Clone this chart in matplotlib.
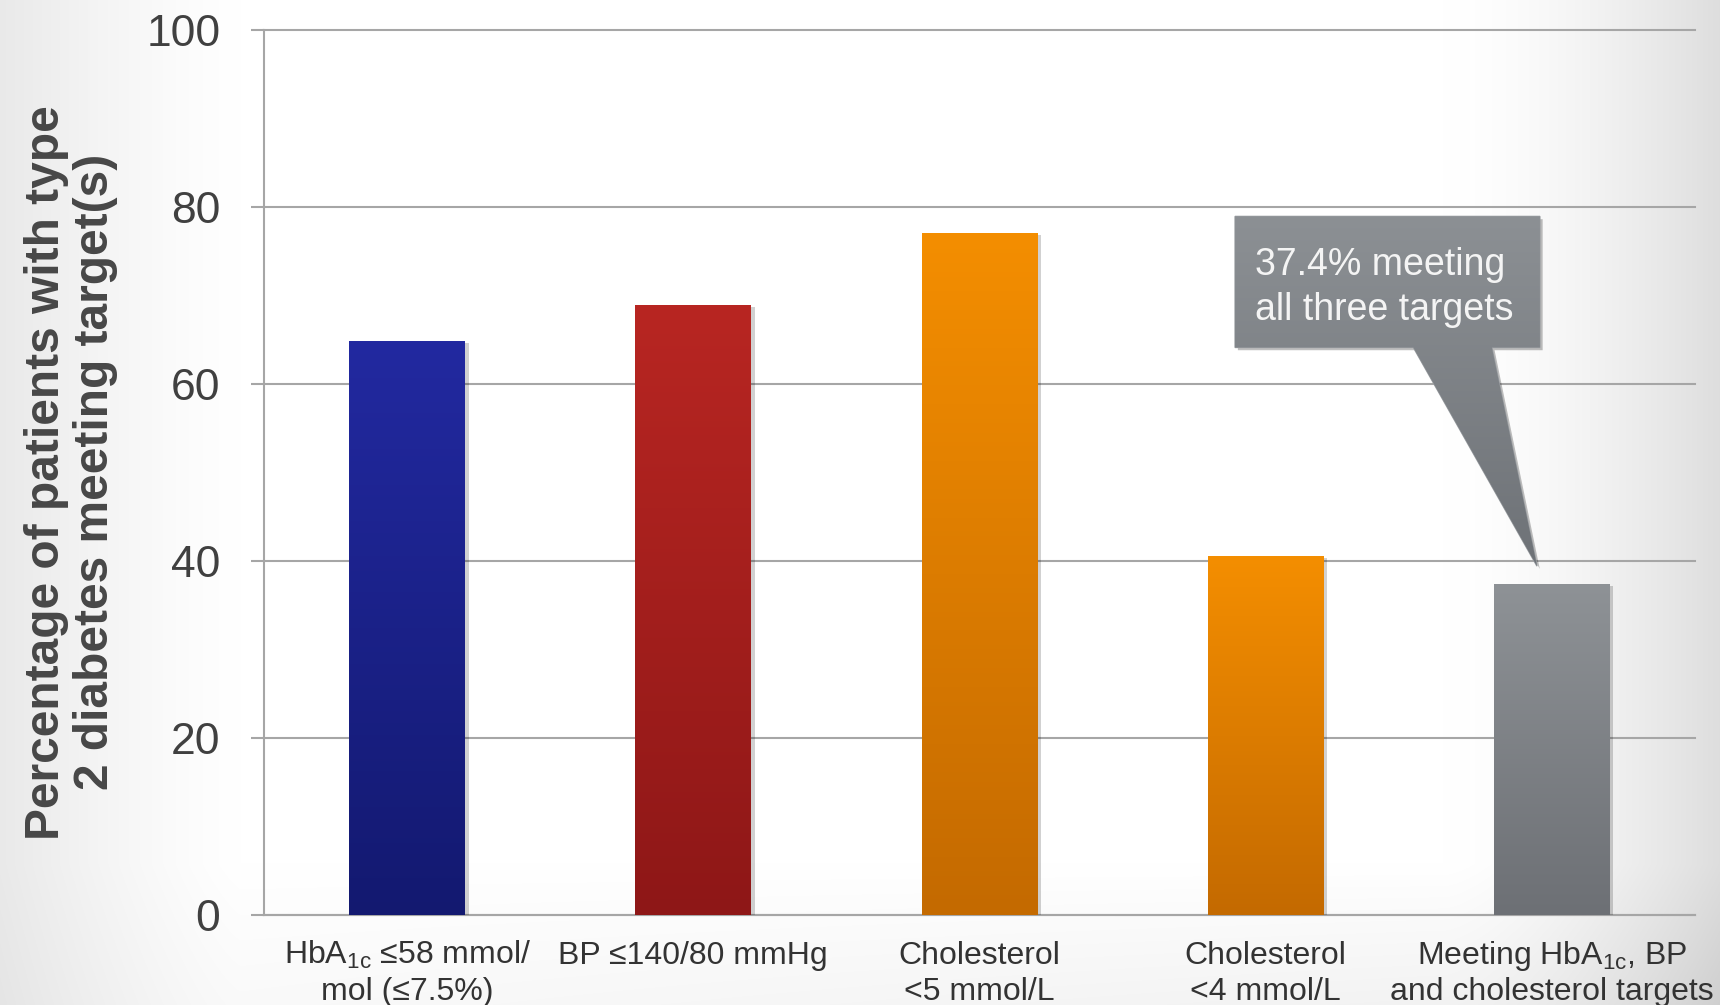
import numpy as np
import matplotlib
matplotlib.use("Agg")
import matplotlib.pyplot as plt
import matplotlib.patheffects as pe
from matplotlib.patches import Polygon
from matplotlib.colors import LinearSegmentedColormap
from matplotlib.transforms import blended_transform_factory, offset_copy

plt.rcParams["font.family"] = ["Liberation Sans", "DejaVu Sans"]
plt.rcParams["mathtext.fontset"] = "custom"
plt.rcParams["mathtext.rm"] = "Liberation Sans"
plt.rcParams["mathtext.it"] = "Liberation Sans:italic"
plt.rcParams["mathtext.bf"] = "Liberation Sans:bold"

# ---- data ----
label_line1 = [r"HbA$_{\mathregular{1c}}$ ≤58 mmol/", "BP ≤140/80 mmHg", "Cholesterol",
               "Cholesterol", r"Meeting HbA$_{\mathregular{1c}}$, BP"]
label_line2 = ["mol (≤7.5%)", "", "<5 mmol/L", "<4 mmol/L", "and cholesterol targets"]
values = [64.8, 68.9, 77.0, 40.5, 37.4]
top_colors = ["#2229A0", "#B82622", "#F48E00", "#F48E00", "#8E9296"]
bottom_colors = ["#131970", "#8E1717", "#C46A00", "#C46A00", "#6D7075"]
yticks = [0, 20, 40, 60, 80, 100]
ylabel = "Percentage of patients with type\n2 diabetes meeting target(s)"
callout_text = "37.4% meeting\nall three targets"

W, H = 1720, 1005
fig = plt.figure(figsize=(W / 100, H / 100), dpi=100)

# soft grey backdrop, lighter in the middle
bg = fig.add_axes([0, 0, 1, 1], zorder=-10)
u = np.linspace(0, 1, W)[None, :]
v = np.linspace(0, 1, H)[:, None]
shade = (0.085 * np.clip((0.14 - u) / 0.14, 0, 1) ** 1.3
         + 0.13 * np.clip((u - 0.84) / 0.16, 0, 1) ** 1.6
         + 0.04 * np.clip((v - 0.86) / 0.14, 0, 1) * (0.4 + u))
bright = 1 - shade
bg.imshow(np.dstack([bright, bright, bright]), extent=[0, 1, 0, 1], aspect="auto")
bg.set_axis_off()

ax = fig.add_axes([264 / W, 1 - 915 / H, (1695 - 264) / W, (915 - 29.6) / H])
ax.patch.set_alpha(0)
x = np.arange(len(values))
grid_c = "#A6A6A6"

bars = ax.bar(x, values, width=0.405, color=top_colors, zorder=3)
grad = np.linspace(0, 1, 256).reshape(-1, 1)
for rect, c0, c1 in zip(bars, bottom_colors, top_colors):
    rect.set_path_effects([pe.SimplePatchShadow(offset=(2.5, -1.5), shadow_rgbFace="#000000", alpha=0.18),
                           pe.Normal()])
    cmap = LinearSegmentedColormap.from_list("g", [c0, c1])
    x0, w, h = rect.get_x(), rect.get_width(), rect.get_height()
    im = ax.imshow(grad, extent=[x0, x0 + w, 0, h], origin="lower", cmap=cmap,
                   aspect="auto", zorder=4)
    im.set_clip_path(rect)

ax.set_xlim(-0.5, len(values) - 0.5)
ax.set_ylim(0, 100)
ax.set_yticks(yticks)
ax.set_yticklabels([str(t) for t in yticks])
ax.set_xticks([])
ax.yaxis.grid(True, color=grid_c, linewidth=1.5)
for gl in ax.get_ygridlines():
    gl.set_clip_on(False)
ax.set_axisbelow(True)
for s in ["top", "right"]:
    ax.spines[s].set_visible(False)
for s in ["left", "bottom"]:
    ax.spines[s].set_color(grid_c)
    ax.spines[s].set_linewidth(1.5)
ax.tick_params(axis="y", length=9.4, width=1.5, color=grid_c, pad=22,
               labelsize=32, labelcolor="#404040")

# category labels, two lines each
tr = blended_transform_factory(ax.transData, ax.transAxes)
for i, (l1, l2) in enumerate(zip(label_line1, label_line2)):
    ax.text(i, 0, l1, transform=offset_copy(tr, fig=fig, y=-35, units="points"),
            ha="center", va="baseline", fontsize=23, color="#333333")
    if l2:
        ax.text(i, 0, l2, transform=offset_copy(tr, fig=fig, y=-61.5, units="points"),
                ha="center", va="baseline", fontsize=23, color="#333333")

ax.text(-0.135, 0.5, ylabel, transform=ax.transAxes, rotation=90, ha="center",
        va="center", multialignment="center", fontsize=34.5, fontweight="bold",
        color="#474747", linespacing=1.1)

# callout pointing at the combined-target bar
bx0, bx1, by0, by1 = 2.893, 3.958, 64.1, 78.9
base_l, base_r = 3.516, 3.79
tip = (3.948, values[4] + 2.0)
verts = [(bx0, by1), (bx1, by1), (bx1, by0), (base_r, by0), tip, (base_l, by0), (bx0, by0)]
poly = Polygon(verts, closed=True, facecolor="#8A8E92", edgecolor="#9A9EA2",
               linewidth=1.0, zorder=6)
poly.set_path_effects([pe.SimplePatchShadow(offset=(2, -2), shadow_rgbFace="#000000", alpha=0.25),
                       pe.Normal()])
ax.add_patch(poly)
ccmap = LinearSegmentedColormap.from_list("c", ["#6E7277", "#8C9094"])
cim = ax.imshow(grad, extent=[bx0, bx1, tip[1], by1], origin="lower", cmap=ccmap,
                aspect="auto", zorder=7)
cim.set_clip_path(poly)
ax.text(2.963, 72.3, callout_text.split("\n")[0], ha="left", va="baseline",
        fontsize=27, color="#F4F4F4", zorder=8)
ax.text(2.963, 67.2, callout_text.split("\n")[1], ha="left", va="baseline",
        fontsize=27, color="#F4F4F4", zorder=8)

ax.set_xlim(-0.5, len(values) - 0.5)
ax.set_ylim(0, 100)
fig.savefig("out.png", dpi=100)
